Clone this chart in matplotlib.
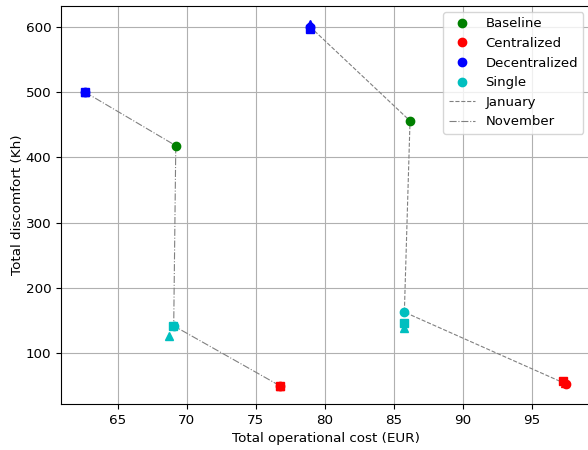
import matplotlib
matplotlib.use("Agg")
import matplotlib.pyplot as plt
from matplotlib.lines import Line2D

plt.rcParams["font.size"] = 9.7

strategies = ["Baseline", "Centralized", "Decentralized", "Single"]
colors = {"Baseline": "g", "Centralized": "r", "Decentralized": "b", "Single": "c"}
case_markers = ["o", "^", "s"]

# January: cost (EUR), discomfort (Kh) per case (o, ^, s); Baseline has one case
jan_cost = {
    "Baseline": [86.16],
    "Centralized": [97.45, 97.35, 97.2],
    "Decentralized": [78.93, 78.93, 78.9],
    "Single": [85.75, 85.75, 85.75],
}
jan_disc = {
    "Baseline": [456],
    "Centralized": [53, 55, 58],
    "Decentralized": [600, 605, 596],
    "Single": [163, 139, 146],
}
# November
nov_cost = {
    "Baseline": [69.2],
    "Centralized": [76.75, 76.74, 76.74],
    "Decentralized": [62.63, 62.63, 62.63],
    "Single": [69.05, 68.7, 69.0],
}
nov_disc = {
    "Baseline": [418],
    "Centralized": [50, 50, 50],
    "Decentralized": [500, 500, 500],
    "Single": [142, 127, 141],
}
path_order = ["Decentralized", "Baseline", "Single", "Centralized"]

fig = plt.figure(figsize=(5.88, 4.5), dpi=100)
ax = fig.add_axes([61/588, 1 - 404/450, 529/588, (404 - 5.5)/450])

for cost, disc, ls in [(jan_cost, jan_disc, "--"), (nov_cost, nov_disc, "-.")]:
    xs = [cost[s][0] for s in path_order]
    ys = [disc[s][0] for s in path_order]
    ax.plot(xs, ys, color="gray", linestyle=ls, linewidth=0.8, zorder=2)
    for s in strategies:
        for i, (cx, cy) in enumerate(zip(cost[s], disc[s])):
            ax.plot(cx, cy, marker=case_markers[i], color=colors[s],
                    linestyle="none", markersize=6, zorder=3 + i)

ax.grid(True, color="#b0b0b0", linewidth=0.8)
ax.set_axisbelow(True)
ax.set_xticks([65, 70, 75, 80, 85, 90, 95])
ax.set_yticks([100, 200, 300, 400, 500, 600])
ax.set_xlabel("Total operational cost (EUR)")
ax.set_ylabel("Total discomfort (Kh)", labelpad=1.5)

handles = [Line2D([], [], marker="o", color=colors[s], linestyle="none", label=s)
           for s in strategies]
handles.append(Line2D([], [], color="gray", linestyle="--", linewidth=0.8, label="January"))
handles.append(Line2D([], [], color="gray", linestyle="-.", linewidth=0.8, label="November"))
ax.legend(handles=handles, loc="upper right", fontsize=9.5, labelspacing=0.5)

fig.savefig("out.png", dpi=100)
